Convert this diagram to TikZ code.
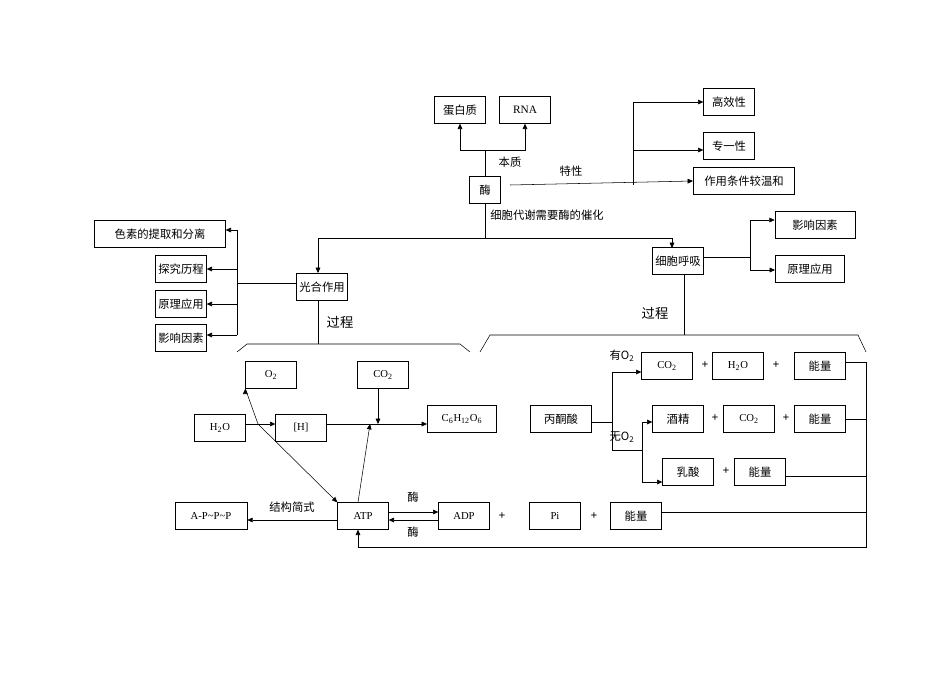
\documentclass[tikz,border=0pt]{standalone}
\usepackage{fontspec}
\setmainfont{Liberation Serif}
\newfontfamily\cjk{Noto Sans CJK SC}
\usetikzlibrary{arrows.meta}
\begin{document}
\begin{tikzpicture}[x=0.75pt,y=-0.75pt,>={Triangle[length=4pt,width=3.5pt]},font=\fontsize{8.5}{10}\selectfont\cjk]
    \tikzstyle{box}=[draw,rectangle,minimum width=38pt,minimum height=20pt,inner sep=1pt,line width=0.5pt]
    \tikzstyle{wide}=[box,minimum width=54pt]
    \tikzstyle{lbl}=[inner sep=1pt]
    \tikzstyle{plus}=[inner sep=1pt,font=\fontsize{9}{10}\selectfont\bfseries\rmfamily]
    \useasboundingbox (0,0) rectangle (950,672);

    % enzyme part
    \node[box] (dbz) at (460,110) {蛋白质};
    \node[box] (rna) at (525,110) {\rmfamily RNA};
    \node[box,minimum width=23pt] (mei) at (485,190) {酶};
    \node[box] (gxx) at (729,102) {高效性};
    \node[box] (zyx) at (729,146) {专一性};
    \node[box,minimum width=76pt] (tj) at (744,181) {作用条件较温和};
    \node[lbl] at (510,162) {本质};
    \node[lbl] at (571,171) {特性};
    \node[lbl] at (547,215) {细胞代谢需要酶的催化};
    \draw (mei.north) -- (485,150) coordinate (bz);
    \draw[->] (bz) -| (dbz.south);
    \draw[->] (bz) -| (rna.south);
    \draw[->] (510,185) coordinate (tx) -- (tj.west);
    \draw[->] (633,185) |- (gxx.west);
    \draw[->] (633,150) -- (zyx.west |- 633,150);
    \draw (mei.south) -- (485,238) coordinate (dx);
    \draw[->] (dx) -| (318,273);
    \draw[->] (dx) -| (672,248);

    % photosynthesis
    \node[box] (gh) at (322,287) {光合作用};
    \node[box,minimum width=98pt] (ss) at (160,234) {色素的提取和分离};
    \node[box] (tj1) at (181,269) {探究历程};
    \node[box] (yl1) at (181,304) {原理应用};
    \node[box] (ys1) at (181,338) {影响因素};
    \draw (gh.west |- 0,283) -- (237,283) coordinate (gl);
    \draw (237,230) -- (237,335);
    \foreach \n/\y in {ss/230,tj1/269,yl1/304,ys1/335}
        \draw[->] (237,\y) -- (\n.east |- 0,\y);
    \draw (318,300) -- (318,344);
    \node[lbl,font=\fontsize{10}{12}\selectfont\cjk] at (340,322) {过程};
    \draw (237,352) -- (247,344) -- (460,344) -- (470,352);

    % respiration
    \node[box] (hx) at (678,261) {细胞呼吸};
    \node[box,minimum width=60pt] (ys2) at (815,225) {影响因素};
    \node[box,minimum width=52pt] (yl2) at (810,269) {原理应用};
    \draw (hx.east |- 0,257) -- (750,257);
    \draw (750,220) -- (750,270);
    \draw[->] (750,220) -- (ys2.west |- 0,220);
    \draw[->] (750,270) -- (yl2.west |- 0,270);
    \draw (684,274) -- (684,335);
    \node[lbl,font=\fontsize{10}{12}\selectfont\cjk] at (655,313) {过程};
    \draw (480,352) -- (490,335) -- (858,335) -- (866,352);

    % reactions
    \node[box,font=\rmfamily\footnotesize] (o2) at (271,375) {O\textsubscript{2}};
    \node[box,font=\rmfamily\footnotesize] (co2) at (383,375) {CO\textsubscript{2}};
    \node[box,font=\rmfamily\footnotesize] (h2o) at (220,428) {H\textsubscript{2}O};
    \node[box,font=\rmfamily\footnotesize] (h) at (301,428) {[H]};
    \node[wide,minimum width=52pt,font=\rmfamily\footnotesize] (glu) at (462,419) {C\textsubscript{6}H\textsubscript{12}O\textsubscript{6}};
    \node[box,minimum width=46pt] (bty) at (561,419) {丙酮酸};
    \node[box,font=\rmfamily\footnotesize] (atp) at (363,516) {ATP};
    \node[wide,font=\rmfamily\footnotesize] (apt) at (211,516) {A-P\textasciitilde P\textasciitilde P};
    \node[box,font=\rmfamily\footnotesize] (adp) at (464,516) {ADP};
    \node[plus] at (502,516) {+};
    \node[box,font=\rmfamily\footnotesize] (pi) at (555,516) {Pi};
    \node[plus] at (594,516) {+};
    \node[box] (nl0) at (636,516) {能量};

    \draw (h2o.east |- 0,424) -- (258,424) coordinate (bp);
    \draw[->] (bp) -- (h.west |- 0,424);
    \draw[->] (bp) -- (o2.south west) ++(0,0);
    \draw[->] (bp) -- (atp.north west);
    \draw[->] (h.east |- 0,424) -- (glu.west |- 0,424);
    \draw[->] (co2.south -| 378,0) -- (378,424);
    \draw[->] (atp.north -| 358,0) -- (370,424);
    \draw[->] (atp.west |- 0,520) -- (apt.east |- 0,520);
    \node[lbl] at (292,507) {结构简式};
    \draw[->] (atp.east |- 0,512) -- (adp.west |- 0,512);
    \draw[->] (adp.west |- 0,520) -- (atp.east |- 0,520);
    \node[lbl] at (413,497) {酶};
    \node[lbl] at (413,532) {酶};

    % products of respiration
    \node[box,font=\rmfamily\footnotesize] (co2a) at (667,366) {CO\textsubscript{2}};
    \node[plus] at (705,365) {+};
    \node[box,font=\rmfamily\footnotesize] (h2oa) at (738,366) {H\textsubscript{2}O};
    \node[plus] at (776,365) {+};
    \node[box] (nl1) at (820,366) {能量};
    \node[box] (jj) at (678,419) {酒精};
    \node[plus] at (715,418) {+};
    \node[box,font=\rmfamily\footnotesize] (co2b) at (749,419) {CO\textsubscript{2}};
    \node[plus] at (786,418) {+};
    \node[box] (nl2) at (820,419) {能量};
    \node[box] (rs) at (688,472) {乳酸};
    \node[plus] at (726,471) {+};
    \node[box] (nl3) at (760,472) {能量};
    \node[lbl] at (622,356) {有O\textsubscript{2}};
    \node[lbl] at (622,437) {无O\textsubscript{2}};

    \draw (bty.east |- 0,422) -- (612,422);
    \draw[->] (612,450) -- (612,372) -- (co2a.west |- 0,372);
    \draw (612,450) -- (642,450);
    \draw[->] (642,482) -- (642,422) -- (jj.west |- 0,422);
    \draw[->] (642,482) -- (rs.west |- 0,482);

    \draw (nl1.east |- 0,362) -- (866,362);
    \draw (nl2.east |- 0,419) -- (866,419);
    \draw (nl3.east |- 0,476) -- (866,476);
    \draw (nl0.east |- 0,512) -- (866,512);
    \draw[->] (866,362) -- (866,547) -- (358,547) -- (atp.south -| 358,0);
\end{tikzpicture}
\end{document}
